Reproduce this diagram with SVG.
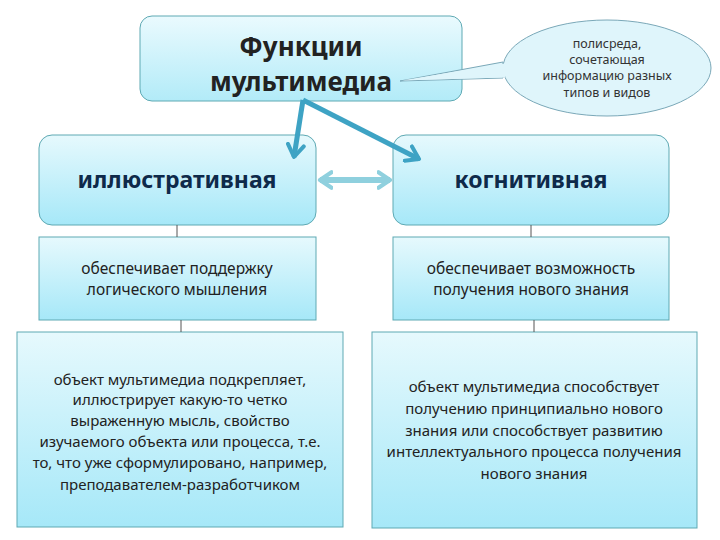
<svg xmlns="http://www.w3.org/2000/svg" width="720" height="540" viewBox="0 0 720 540">
<defs>
<linearGradient id="g" x1="0" y1="0" x2="0" y2="1">
<stop offset="0" stop-color="#e6f9fd"/>
<stop offset="1" stop-color="#a6e8f8"/>
</linearGradient>
<linearGradient id="gt" x1="0" y1="0" x2="0" y2="1">
<stop offset="0" stop-color="#eafafe"/>
<stop offset="1" stop-color="#b2ebf8"/>
</linearGradient>
<marker id="ah" viewBox="0 0 10 10" refX="7" refY="5" markerWidth="4" markerHeight="4" orient="auto" markerUnits="strokeWidth">
<path d="M1,1 L7,5 L1,9" fill="none" stroke="#3ea3c4" stroke-width="2" stroke-linecap="round" stroke-linejoin="round"/>
</marker>
<marker id="dh" viewBox="0 0 10 10" refX="7" refY="5" markerWidth="3.2" markerHeight="3.2" orient="auto-start-reverse" markerUnits="strokeWidth">
<path d="M1,1 L7,5 L1,9" fill="none" stroke="#8fd0de" stroke-width="2.2" stroke-linecap="round" stroke-linejoin="round"/>
</marker>
</defs>
<style>
.box{fill:url(#g);stroke:#5ea9b3;stroke-width:1}
.top{fill:url(#gt);stroke:#5ea9b3;stroke-width:1}
.t{font-family:"Noto Sans","Open Sans",sans-serif;text-anchor:middle;fill:#222}
.h{font-weight:bold;fill:#0e2a4a;font-size:23px}
.s{font-size:15px}
.s2{font-size:15.5px}
.c{font-size:12.5px;fill:#333}
.ln{stroke:#555;stroke-width:1}
</style>
<rect width="720" height="540" fill="#fff"/>

<g id="title">
<rect class="top" x="140" y="16" width="322" height="85" rx="12"/>
<text class="t" x="301" y="56" font-size="26" font-weight="bold" fill="#111">Функции</text>
<text class="t" x="301" y="91" font-size="26" font-weight="bold" fill="#111">мультимедиа</text>
</g>

<g id="callout">
<path d="M400,81 L503,62 L503,78 Z" fill="#dff5fb" stroke="#7aa8b8" stroke-width="1"/>
<ellipse cx="607" cy="68" rx="104" ry="48" fill="#dff5fb" stroke="#7aa8b8" stroke-width="1"/>
<path d="M402,80.6 L505,63.5 L505,77.5 Z" fill="#dff5fb"/>
<text class="t c" x="607" y="48">полисреда,</text>
<text class="t c" x="607" y="64">сочетающая</text>
<text class="t c" x="607" y="80">информацию разных</text>
<text class="t c" x="607" y="97">типов и видов</text>
</g>

<g id="illustr">
<rect class="box" x="39" y="135" width="277" height="90" rx="13"/>
<text class="t h" x="177" y="188">иллюстративная</text>
</g>

<g id="cogn">
<rect class="box" x="393" y="135" width="276" height="90" rx="13"/>
<text class="t h" x="531" y="188">когнитивная</text>
</g>

<g id="illustr2">
<rect class="box" x="39" y="237" width="277" height="83"/>
<text class="t s2" x="177" y="274">обеспечивает поддержку</text>
<text class="t s2" x="177" y="295">логического мышления</text>
</g>

<g id="cogn2">
<rect class="box" x="393" y="237" width="276" height="83"/>
<text class="t s2" x="531" y="274">обеспечивает возможность</text>
<text class="t s2" x="531" y="295">получения нового знания</text>
</g>

<g id="illustr3">
<rect class="box" x="17" y="332" width="326" height="195"/>
<text class="t s" x="180" y="385">объект мультимедиа подкрепляет,</text>
<text class="t s" x="180" y="405">иллюстрирует какую-то четко</text>
<text class="t s" x="180" y="426">выраженную мысль, свойство</text>
<text class="t s" x="180" y="447">изучаемого объекта или процесса, т.е.</text>
<text class="t s" x="180" y="468">то, что уже сформулировано, например,</text>
<text class="t s" x="180" y="490">преподавателем-разработчиком</text>
</g>

<g id="cogn3">
<rect class="box" x="372" y="332" width="325" height="196"/>
<text class="t s" x="534" y="392">объект мультимедиа способствует</text>
<text class="t s" x="534" y="414">получению принципиально нового</text>
<text class="t s" x="534" y="436">знания или способствует  развитию</text>
<text class="t s" x="534" y="457">интеллектуального процесса получения</text>
<text class="t s" x="534" y="479">нового знания</text>
</g>

<g id="connectors">
<line class="ln" x1="177" y1="225" x2="177" y2="237"/>
<line class="ln" x1="531" y1="225" x2="531" y2="237"/>
<line class="ln" x1="181" y1="320" x2="181" y2="332"/>
<line class="ln" x1="534" y1="320" x2="534" y2="332"/>
<line x1="303" y1="100" x2="294" y2="157" stroke="#3ea3c4" stroke-width="5" marker-end="url(#ah)"/>
<line x1="303" y1="100" x2="419" y2="159" stroke="#3ea3c4" stroke-width="5" marker-end="url(#ah)"/>
<line x1="320" y1="180" x2="390" y2="180" stroke="#8fd0de" stroke-width="6" marker-start="url(#dh)" marker-end="url(#dh)"/>
</g>
</svg>
